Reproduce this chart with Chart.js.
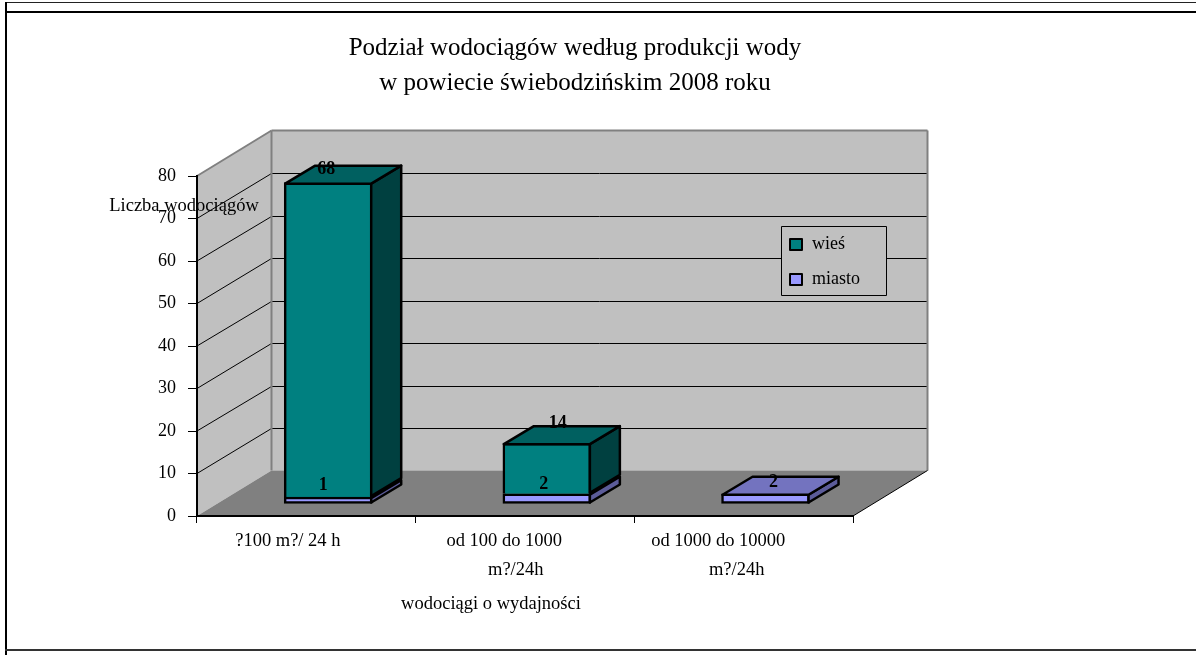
<!DOCTYPE html>
<html>
<head>
<meta charset="utf-8">
<title>Podział wodociągów</title>
<script src="https://cdn.jsdelivr.net/npm/chart.js@4/dist/chart.umd.min.js"></script>
<style>
    html, body { margin: 0; padding: 0; background: #fff; overflow: hidden; }
    #page { position: relative; width: 1196px; height: 655px; }
    #chartWrap { position: absolute; left: 0; top: 0; width: 1150px; height: 655px; }
    .frame { position: absolute; }
</style>
</head>
<body>
<div id="page">
    <div class="frame" style="left:5px;top:2px;width:1191px;height:1px;background:#222"></div>
    <div class="frame" style="left:5px;top:11px;width:1191px;height:2px;background:#000"></div>
    <div class="frame" style="left:5px;top:2px;width:2px;height:653px;background:#000"></div>
    <div class="frame" style="left:5px;top:649px;width:1191px;height:2px;background:#333"></div>
    <div id="chartWrap"><canvas id="waterChart" width="1150" height="655"></canvas></div>
</div>
<script>
const categories = [['?100 m?/ 24 h'], ['od 100 do 1000', 'm?/24h'], ['od 1000 do 10000', 'm?/24h']];
const barSlots = [0, 1, 2];
const wiesValues = [74, 11.9, 0];
const miastoValues = [1.5, 2.3, 2.3];
const wiesLabels = ['68', '14', ''];
const miastoLabels = ['1', '2', '2'];
const legendNames = ['wieś', 'miasto'];

const SERIF = '"Liberation Serif"';
const WALL_DX = 74.5, WALL_DY = 45.5;   // side wall depth
const BAR_DX = 30, BAR_DY = 18;         // bar depth
const BAR_LINE = 2.5;
// the labels are not centred in the original, trailing spaces push them left
const tickTrail = [[8], [9, 4], [11, 3]];

function poly(ctx, pts, fill, stroke, lw) {
    ctx.beginPath();
    pts.forEach((p, i) => i ? ctx.lineTo(p[0], p[1]) : ctx.moveTo(p[0], p[1]));
    ctx.closePath();
    if (fill) { ctx.fillStyle = fill; ctx.fill(); }
    if (stroke) { ctx.strokeStyle = stroke; ctx.lineWidth = lw; ctx.stroke(); }
}

function line(ctx, x1, y1, x2, y2, color, lw) {
    ctx.beginPath();
    ctx.moveTo(x1, y1);
    ctx.lineTo(x2, y2);
    ctx.strokeStyle = color;
    ctx.lineWidth = lw;
    ctx.stroke();
}

// walls and floor go under the axes
const wallsPlugin = {
    id: 'walls',
    beforeDraw(chart) {
        const ctx = chart.ctx, a = chart.chartArea, yScale = chart.scales.y;
        const backL = a.left + WALL_DX, backR = a.right + WALL_DX;
        ctx.save();
        poly(ctx, [[backL, a.top - WALL_DY], [backR, a.top - WALL_DY], [backR, a.bottom - WALL_DY], [backL, a.bottom - WALL_DY]], '#c0c0c0');
        poly(ctx, [[a.left, a.top], [backL, a.top - WALL_DY], [backL, a.bottom - WALL_DY], [a.left, a.bottom]], '#c0c0c0');
        poly(ctx, [[a.left, a.bottom], [a.right, a.bottom], [backR, a.bottom - WALL_DY], [backL, a.bottom - WALL_DY]], '#808080');
        yScale.ticks.forEach(t => {
            if (t.value === 0 || t.value === 80) return;
            const y = yScale.getPixelForValue(t.value);
            const backY = Math.round(y - WALL_DY) + 0.5;
            line(ctx, a.left, y, backL, backY, '#000', 1);
            line(ctx, backL, backY, backR, backY, '#000', 1);
        });
        line(ctx, a.left, a.top, backL, a.top - WALL_DY, '#808080', 2);
        line(ctx, backL, a.top - WALL_DY, backR, a.top - WALL_DY, '#808080', 2);
        line(ctx, backL, a.top - WALL_DY, backL, a.bottom - WALL_DY, '#808080', 2);
        line(ctx, backR, a.top - WALL_DY, backR, a.bottom - WALL_DY, '#808080', 2);
        line(ctx, a.right, a.bottom, backR, a.bottom - WALL_DY, '#000', 1);
        ctx.restore();
    }
};

// side and top faces, value labels, axis names and legend
const depthPlugin = {
    id: 'depth',
    afterDatasetsDraw(chart) {
        const ctx = chart.ctx;
        const faces = [
            { index: 0, side: '#5c5c99', top: '#7373bf' },
            { index: 1, side: '#004040', top: '#006060' }
        ];
        ctx.save();
        ctx.lineJoin = 'round';
        faces.forEach(f => {
            chart.getDatasetMeta(f.index).data.forEach((bar, i) => {
                const b = bar.getProps(['x', 'y', 'base', 'width'], true);
                if (Math.abs(b.base - b.y) < 1) return;
                const r = b.x + b.width / 2, l = b.x - b.width / 2;
                poly(ctx, [[r - 1, b.y + 1], [r - 1 + BAR_DX, b.y + 1 - BAR_DY], [r - 1 + BAR_DX, b.base - 1 - BAR_DY], [r - 1, b.base - 1]], f.side, '#000', BAR_LINE);
                const isTop = f.index === 1 || wiesValues[i] === 0;
                if (isTop) {
                    poly(ctx, [[l + 1, b.y + 1], [l + 1 + BAR_DX, b.y + 1 - BAR_DY], [r - 1 + BAR_DX, b.y + 1 - BAR_DY], [r - 1, b.y + 1]], f.top, '#000', BAR_LINE);
                }
            });
        });

        // value labels sit where the original put them, not on the bar centre
        ctx.fillStyle = '#000';
        ctx.font = 'bold 18px ' + SERIF;
        ctx.textAlign = 'center';
        ctx.textBaseline = 'middle';
        const wiesNudge = [[-2, -13], [11, -20]];
        chart.getDatasetMeta(1).data.forEach((bar, i) => {
            if (!wiesLabels[i]) return;
            ctx.fillText(wiesLabels[i], bar.x + wiesNudge[i][0], bar.y + wiesNudge[i][1]);
        });
        const miastoNudge = [[-5, -12], [-3, -9.5], [8, -11.5]];
        chart.getDatasetMeta(0).data.forEach((bar, i) => {
            ctx.fillText(miastoLabels[i], bar.x + miastoNudge[i][0], bar.y + miastoNudge[i][1]);
        });

        // axis names
        ctx.font = '18.5px ' + SERIF;
        ctx.fillText('Liczba wodociągów', 184, 206);
        ctx.fillText('wodociągi o wydajności', 491, 604);

        // legend
        poly(ctx, [[781.5, 226.5], [886.5, 226.5], [886.5, 295.5], [781.5, 295.5]], '#c0c0c0', '#000', 1);
        const swatches = [
            { y: 239, color: chart.data.datasets[1].backgroundColor },
            { y: 274, color: chart.data.datasets[0].backgroundColor }
        ];
        ctx.font = '18px ' + SERIF;
        ctx.textAlign = 'left';
        swatches.forEach((s, i) => {
            poly(ctx, [[790, s.y], [802, s.y], [802, s.y + 11], [790, s.y + 11]], s.color, '#000', 2);
            ctx.fillStyle = '#000';
            ctx.fillText(legendNames[i], 812, s.y + 5.5);
        });
        ctx.restore();
    }
};

const ctx = document.getElementById('waterChart').getContext('2d');
const waterChart = new Chart(ctx, {
    type: 'bar',
    data: {
        labels: categories,
        datasets: [{
            label: legendNames[1],
            data: barSlots.map((s, i) => ({ x: s, y: miastoValues[i] })),
            backgroundColor: '#9999ff',
            borderColor: '#000',
            borderWidth: BAR_LINE,
            borderSkipped: false,
            barThickness: 88,
            xAxisID: 'xBar',
            yAxisID: 'yBar',
            clip: false
        }, {
            label: legendNames[0],
            data: barSlots.map((s, i) => ({ x: s, y: wiesValues[i] })),
            backgroundColor: '#008080',
            borderColor: '#000',
            borderWidth: BAR_LINE,
            borderSkipped: 'bottom',
            barThickness: 88,
            xAxisID: 'xBar',
            yAxisID: 'yBar',
            clip: false
        }]
    },
    options: {
        responsive: false,
        animation: false,
        plugins: {
            legend: { display: false },
            tooltip: { enabled: false },
            title: {
                display: true,
                text: ['Podział wodociągów według produkcji wody', 'w powiecie świebodzińskim 2008 roku'],
                color: '#000',
                font: { family: SERIF, size: 25, weight: 'normal', lineHeight: 1.4 },
                padding: { top: 31, bottom: 75 }
            }
        },
        scales: {
            x: {
                type: 'category',
                offset: true,
                grid: { offset: true, drawOnChartArea: false, color: '#000', tickLength: 7 },
                border: { color: '#000', width: 2 },
                ticks: {
                    color: '#000',
                    font: { family: SERIF, size: 18.5, lineHeight: 1.57 },
                    maxRotation: 0,
                    autoSkip: false,
                    padding: 4,
                    callback(value, i) {
                        return categories[i].map((txt, n) => txt + '\u00a0'.repeat(tickTrail[i][n]));
                    }
                },
                afterFit(scale) { scale.height = 139; }
            },
            y: {
                min: 0,
                max: 80,
                grid: { drawOnChartArea: false, color: '#000', tickLength: 9 },
                border: { color: '#000', width: 2 },
                ticks: { stepSize: 10, color: '#000', font: { family: SERIF, size: 18 }, padding: 12 },
                afterFit(scale) { scale.width = 197; }
            },
            xBar: { type: 'linear', display: false, offset: false, min: -0.6, max: 2.4, stacked: true },
            // holds the empty space right of the plot so the title stays centred over the page
            yBar: {
                type: 'linear',
                position: 'right',
                min: -2.94,
                max: 77.06,
                stacked: true,
                grid: { display: false },
                border: { display: false },
                ticks: { display: false },
                afterFit(scale) { scale.width = 297; }
            }
        }
    },
    plugins: [wallsPlugin, depthPlugin]
});
</script>
</body>
</html>
